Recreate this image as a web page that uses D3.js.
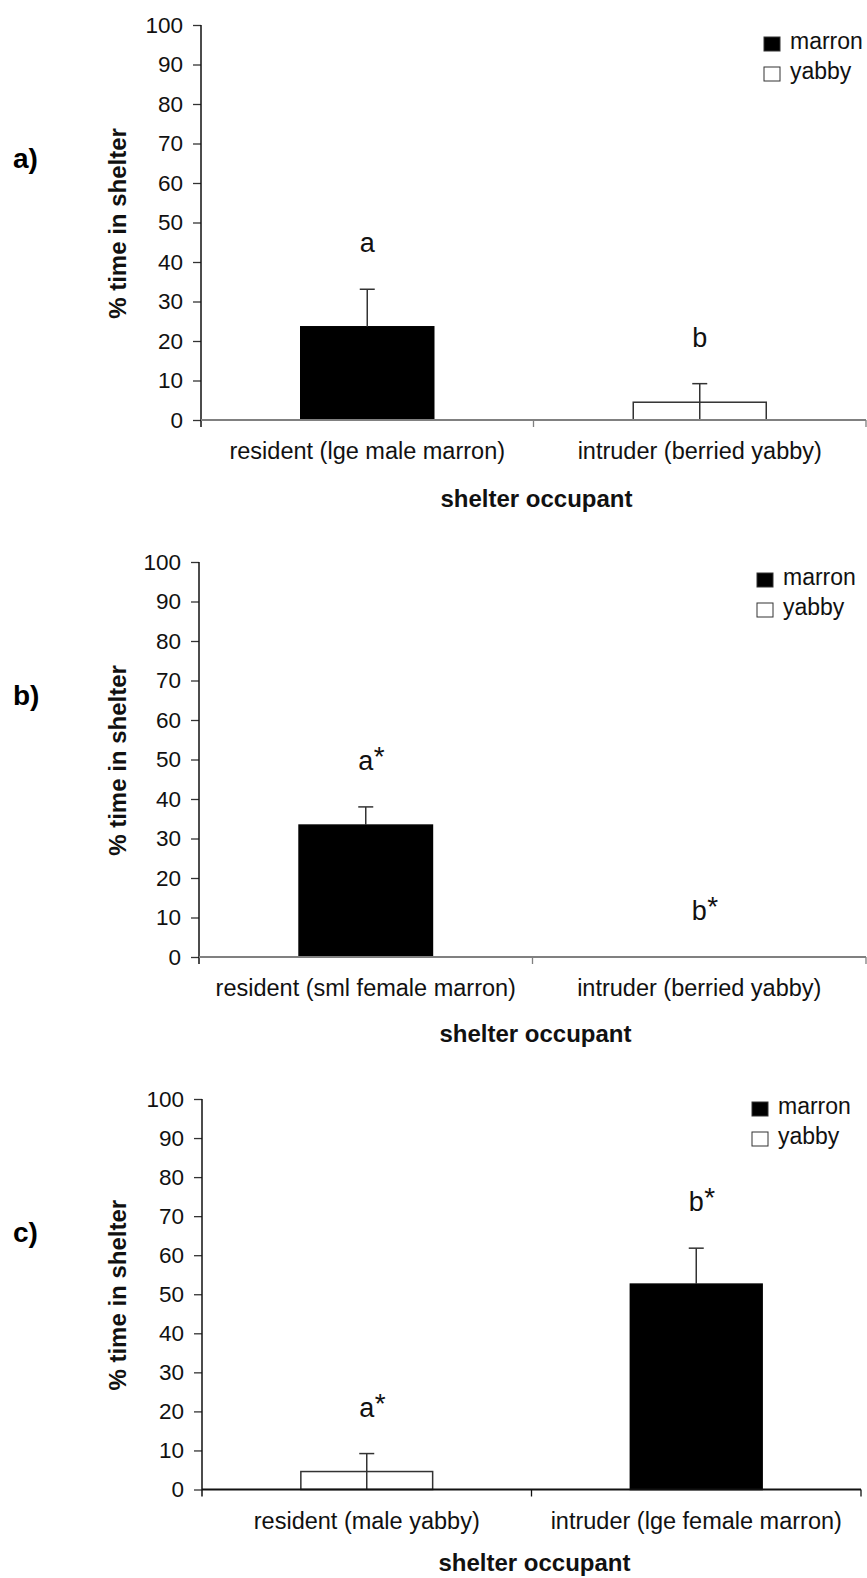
<!DOCTYPE html>
<html>
<head>
<meta charset="utf-8">
<script src="https://cdn.jsdelivr.net/npm/d3@7"></script>
<style>
  body { margin: 0; background: #fff; }
  svg { display: block; font-family: "Liberation Sans", Arial, sans-serif; }
</style>
</head>
<body>
<svg id="chart" width="867" height="1578"></svg>
<script>
// data
var panelLabels = ["a)", "b)", "c)"];
var catsA = ["resident (lge male marron)", "intruder (berried yabby)"];
var catsB = ["resident (sml female marron)", "intruder (berried yabby)"];
var catsC = ["resident (male yabby)", "intruder (lge female marron)"];
var meanA = [23.6, 4.5], seA = [9.5, 4.7];
var meanB = [33.4, 0],   seB = [4.6, 0];
var meanC = [4.6, 52.6], seC = [4.6, 9.2];
var speciesA = ["marron", "yabby"];
var speciesB = ["marron", "yabby"];
var speciesC = ["yabby", "marron"];
var lettersA = ["a", "b"];
var lettersB = ["a*", "b*"];
var lettersC = ["a*", "b*"];
var yTicks = [0, 10, 20, 30, 40, 50, 60, 70, 80, 90, 100];
var legendKeys = ["marron", "yabby"];
var yTitle = "% time in shelter";
var xTitle = "shelter occupant";

var fill = d3.scaleOrdinal().domain(legendKeys).range(["#000", "#fff"]);

// layout of the three panels
var panels = [
  {label: panelLabels[0], cats: catsA, mean: meanA, se: seA, sp: speciesA, let: lettersA,
   x0: 201, x1: 866, top: 25, bot: 420, xaxis: "#808080", lx: 764, ly: 37, tg: 87},
  {label: panelLabels[1], cats: catsB, mean: meanB, se: seB, sp: speciesB, let: lettersB,
   x0: 199, x1: 866, top: 562, bot: 957, xaxis: "#808080", lx: 757, ly: 573, tg: 85},
  {label: panelLabels[2], cats: catsC, mean: meanC, se: seC, sp: speciesC, let: lettersC,
   x0: 202, x1: 861, top: 1099, bot: 1489.5, xaxis: "#111", lx: 752, ly: 1102, tg: 81}
];

var svg = d3.select("#chart");

panels.forEach(function(p) {
  var g = svg.append("g");

  var x = d3.scaleBand().domain(p.cats).range([p.x0, p.x1])
    .paddingInner(0.6).paddingOuter(0.3);
  var y = d3.scaleLinear().domain([0, 100]).range([p.bot, p.top]);

  // panel letter
  g.append("text")
    .attr("x", 13).attr("y", p.top + 143)
    .attr("font-size", 28).attr("font-weight", "bold")
    .text(p.label);

  // y axis
  var ya = g.append("g")
    .attr("transform", "translate(" + p.x0 + ",0)")
    .call(d3.axisLeft(y).tickValues(yTicks).tickSize(8).tickSizeOuter(0).tickPadding(10));
  ya.select(".domain").remove();
  ya.selectAll(".tick line").attr("stroke", "#333").attr("stroke-width", 1.3);
  ya.selectAll(".tick text").attr("font-size", 22.5).attr("fill", "#111")
    .attr("font-family", "Liberation Sans, Arial, sans-serif");
  g.append("line")
    .attr("x1", p.x0).attr("x2", p.x0)
    .attr("y1", p.top).attr("y2", p.bot + 7)
    .attr("stroke", "#111").attr("stroke-width", 1.5);

  // y title
  g.append("text")
    .attr("transform", "translate(126," + ((p.top + p.bot) / 2 + 1) + ") rotate(-90)")
    .attr("text-anchor", "middle")
    .attr("font-size", 24).attr("font-weight", "bold").attr("fill", "#111")
    .text(yTitle);

  // bars
  g.selectAll(".bar").data(p.mean).enter().append("rect")
    .attr("x", function(d, i) { return x(p.cats[i]); })
    .attr("width", x.bandwidth())
    .attr("y", function(d) { return y(d); })
    .attr("height", function(d) { return p.bot - y(d); })
    .attr("fill", function(d, i) { return fill(p.sp[i]); })
    .attr("stroke", function(d, i) { return p.sp[i] == "yabby" ? "#333" : "#000"; })
    .attr("stroke-width", 1.5)
    .style("display", function(d) { return d > 0 ? null : "none"; });

  // error bars (the part inside a black bar is hidden by it)
  p.mean.forEach(function(m, i) {
    if (!(p.se[i] > 0)) return;
    var cx = x(p.cats[i]) + x.bandwidth() / 2;
    g.append("line")
      .attr("x1", cx).attr("x2", cx)
      .attr("y1", y(Math.max(0, m - p.se[i]))).attr("y2", y(m))
      .attr("stroke", p.sp[i] == "marron" ? "#000" : "#333").attr("stroke-width", 1.5);
    g.append("line")
      .attr("x1", cx).attr("x2", cx)
      .attr("y1", y(m)).attr("y2", y(m + p.se[i]))
      .attr("stroke", "#333").attr("stroke-width", 1.5);
    g.append("line")
      .attr("x1", cx - 7.5).attr("x2", cx + 7.5)
      .attr("y1", y(m + p.se[i])).attr("y2", y(m + p.se[i]))
      .attr("stroke", "#333").attr("stroke-width", 1.5);
  });

  // significance letters
  p.let.forEach(function(t, i) {
    var cx = x(p.cats[i]) + x.bandwidth() / 2;
    var by = y(p.mean[i] + p.se[i]) - 37;
    g.append("text")
      .attr("x", cx).attr("y", by)
      .attr("text-anchor", "middle")
      .attr("font-size", 27).attr("fill", "#111")
      .text(t.charAt(0));
    if (t.length > 1) {
      g.append("text")
        .attr("x", cx + 8).attr("y", by - 4)
        .attr("font-size", 28).attr("fill", "#111")
        .text(t.slice(1));
    }
  });

  // x axis baseline with ticks at category boundaries
  g.append("line")
    .attr("x1", p.x0).attr("x2", p.x1)
    .attr("y1", p.bot).attr("y2", p.bot)
    .attr("stroke", p.xaxis).attr("stroke-width", 2);
  [p.x0 + x.step(), p.x1].forEach(function(e) {
    g.append("line")
      .attr("x1", e).attr("x2", e)
      .attr("y1", p.bot).attr("y2", p.bot + 7)
      .attr("stroke", p.xaxis).attr("stroke-width", 1.3);
  });

  // category labels
  g.selectAll(".cat").data(p.cats).enter().append("text")
    .attr("x", function(d) { return x(d) + x.bandwidth() / 2; })
    .attr("y", p.bot + 39)
    .attr("text-anchor", "middle")
    .attr("font-size", 23.5).attr("fill", "#111")
    .text(function(d) { return d; });

  // x title
  g.append("text")
    .attr("x", (p.x0 + p.x1) / 2 + 3).attr("y", p.bot + p.tg)
    .attr("text-anchor", "middle")
    .attr("font-size", 24).attr("font-weight", "bold").attr("fill", "#111")
    .text(xTitle);

  // legend
  var lg = g.append("g").attr("transform", "translate(" + p.lx + "," + p.ly + ")");
  legendKeys.forEach(function(k, i) {
    lg.append("rect")
      .attr("x", 0).attr("y", i * 30)
      .attr("width", 16).attr("height", 14)
      .attr("fill", fill(k)).attr("stroke", "#333").attr("stroke-width", 1);
    lg.append("text")
      .attr("x", 26).attr("y", i * 30 + 12)
      .attr("font-size", 23).attr("fill", "#111")
      .text(k);
  });
});
</script>
</body>
</html>
